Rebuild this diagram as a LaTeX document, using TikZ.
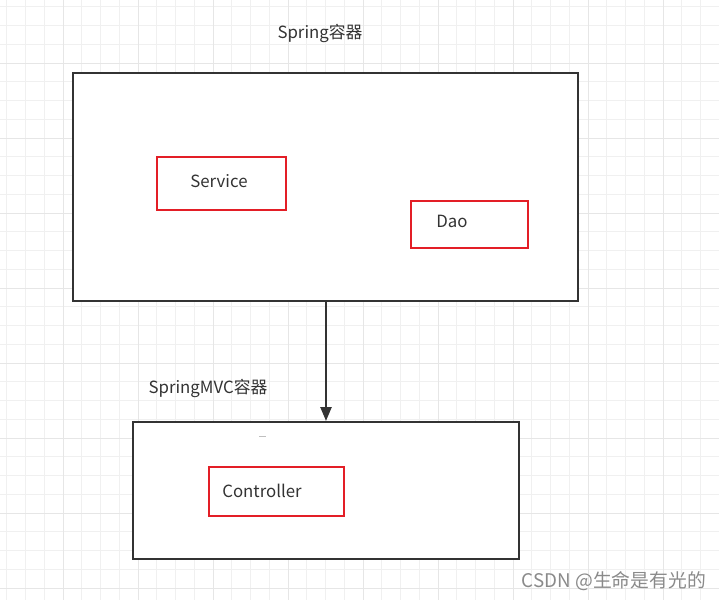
\documentclass[tikz,border=0pt]{standalone}
\usepackage{fontspec}
\setmainfont{Noto Sans CJK SC}
\usetikzlibrary{arrows.meta}
\definecolor{boxgray}{HTML}{333333}
\definecolor{boxred}{HTML}{E31E26}
\definecolor{gridc}{HTML}{F0F0F0}
\definecolor{gridm}{HTML}{E6E6E6}
\definecolor{wm}{HTML}{8A8A8A}
\tikzset{
  outerbox/.style={draw=boxgray, line width=2.8pt, fill=white},
  innerbox/.style={draw=boxred, line width=2.1pt, fill=white},
  lbl/.style={text=boxgray, font=\fontsize{16.8}{19}\selectfont, inner sep=0pt},
}
\begin{document}
\begin{tikzpicture}[x=1pt,y=-1pt]
\useasboundingbox (0,0) rectangle (719,600);
\fill[white] (0,0) rectangle (719,600);
% grid
\foreach \i in {0,...,39} {
  \pgfmathsetmacro\xx{-12+\i*18.75}
  \draw[gridc, line width=0.8pt] (\xx,0) -- (\xx,600);
  \draw[gridc, line width=0.8pt] (0,\xx) -- (719,\xx);
}
\foreach \i in {0,...,10} {
  \pgfmathsetmacro\xx{-12+\i*75}
  \draw[gridm, line width=0.9pt] (\xx,0) -- (\xx,600);
  \draw[gridm, line width=0.9pt] (0,\xx) -- (719,\xx);
}
% Spring container
\node[lbl] (t1) at (320,33) {Spring容器};
\draw[outerbox] (73,73) rectangle (578,301);
\coordinate (topbot) at (326,302);
\node[innerbox, minimum width=129pt, minimum height=53pt, inner sep=0pt] (svc) at (221.5,183.5) {};
\node[lbl] (svct) at (219,181) {Service};
\node[innerbox, minimum width=117pt, minimum height=47pt, inner sep=0pt] (dao) at (469.5,224.5) {};
\node[lbl] (daot) at (452,221) {Dao};
% SpringMVC container
\node[lbl] (t2) at (208,388) {SpringMVC容器};
\draw[outerbox] (133,422) rectangle (519,559);
\coordinate (bottop) at (326,421);
\node[innerbox, minimum width=135pt, minimum height=49pt, inner sep=0pt] (ctl) at (276.5,491.5) {};
\node[lbl] (ctlt) at (262,491) {Controller};
\draw[gray!50, line width=1pt] (259,436) -- (266,436);
% arrow
\draw[boxgray, line width=2.5pt, -{Triangle[length=14pt,width=11pt]}] (topbot) -- (bottop);
% watermark
\node[text=wm, font=\fontsize{18.8}{22}\selectfont, inner sep=0pt, anchor=east] (wmk) at (706,581) {CSDN @生命是有光的};
\end{tikzpicture}
\end{document}
